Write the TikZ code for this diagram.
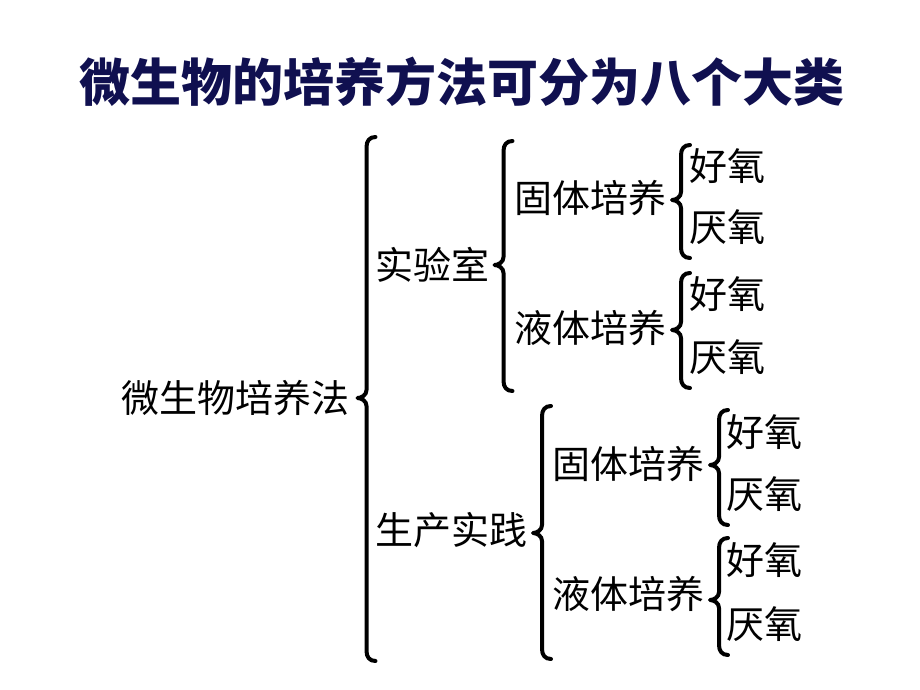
\documentclass[tikz,border=0pt]{standalone}
\usepackage{fontspec}
\newfontfamily\cjk{Noto Sans CJK SC}
\definecolor{titleblue}{RGB}{16,16,80}
\tikzset{
  lbl/.style={anchor=west, inner sep=0pt, font=\cjk\fontsize{38}{38}\selectfont},
  ttl/.style={inner sep=0pt, text=titleblue, font=\cjk\bfseries\fontsize{51}{51}\selectfont},
  br/.style={line width=4pt, line cap=round, line join=round}
}
% brace: shaft x, top y, tip y, bottom y
\newcommand\mybrace[4]{%
  \draw[br] (#1+9,#2) .. controls (#1+3,#2) and (#1,#2+4) .. (#1,#2+10)
    -- (#1,#3-8) .. controls (#1,#3-3) and (#1-5,#3) .. (#1-9,#3)
    .. controls (#1-5,#3) and (#1,#3+3) .. (#1,#3+8)
    -- (#1,#4-10) .. controls (#1,#4-4) and (#1+3,#4) .. (#1+9,#4);}
\begin{document}
\begin{tikzpicture}[x=1pt,y=-1pt]
\useasboundingbox (0,0) rectangle (920,690);
\fill[white] (0,0) rectangle (920,690);
\node[ttl] (title) at (461.5,82) {微生物的培养方法可分为八个大类};

\node[lbl] (root) at (121,398) {微生物培养法};
\node[lbl] (lab) at (375,265) {实验室};
\node[lbl] (prod) at (375,530) {生产实践};

\node[lbl] (s1) at (514,198) {固体培养};
\node[lbl] (l1) at (514,328) {液体培养};
\node[lbl] (a1) at (689,166) {好氧};
\node[lbl] (n1) at (689,227) {厌氧};
\node[lbl] (a2) at (689,294) {好氧};
\node[lbl] (n2) at (689,357) {厌氧};

\node[lbl] (s2) at (552,464) {固体培养};
\node[lbl] (l2) at (552,594) {液体培养};
\node[lbl] (a3) at (726,432) {好氧};
\node[lbl] (n3) at (726,494) {厌氧};
\node[lbl] (a4) at (726,560) {好氧};
\node[lbl] (n4) at (726,624) {厌氧};

\mybrace{366.5}{137}{398}{661}
\mybrace{503.5}{141}{265}{391}
\mybrace{681}{145}{200}{258}
\mybrace{681}{273}{330}{388}
\mybrace{542}{406}{533}{659}
\mybrace{719}{410}{465}{525}
\mybrace{719}{538}{600}{655}
\end{tikzpicture}
\end{document}
